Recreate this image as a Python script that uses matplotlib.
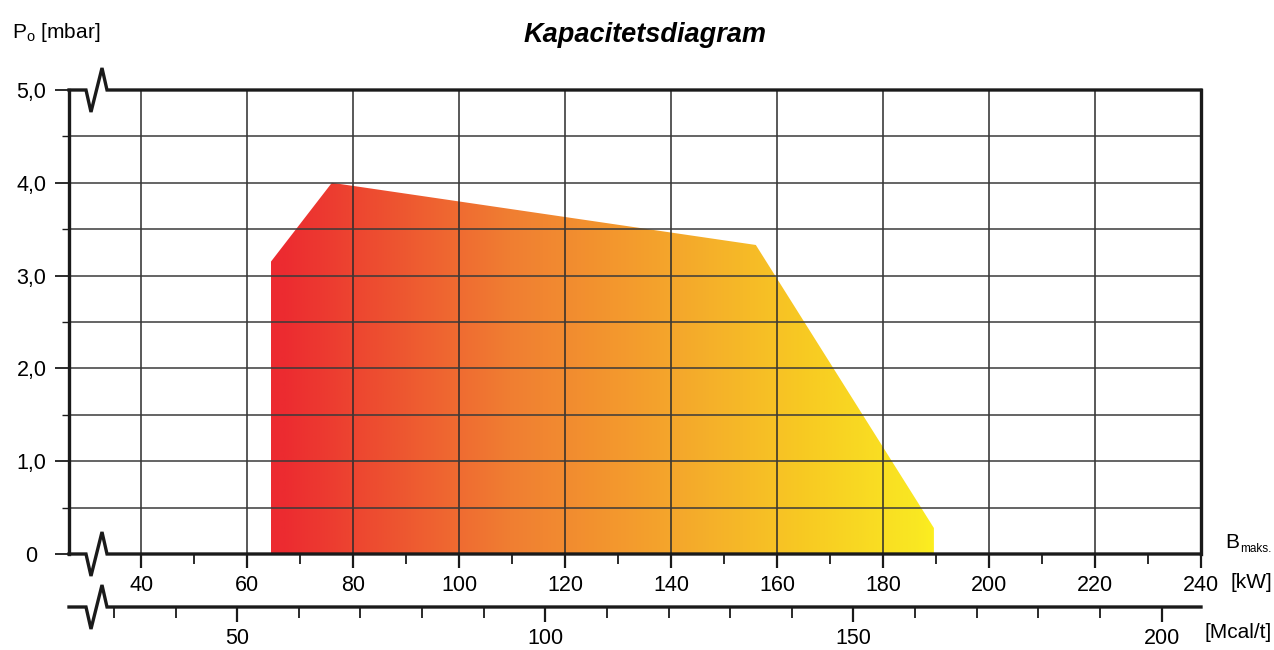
"""Kapacitetsdiagram: arbeidsområde for brenner (trykk mot effekt)."""

import matplotlib

matplotlib.use("Agg")
import matplotlib.pyplot as plt
import numpy as np
from matplotlib.colors import LinearSegmentedColormap
from matplotlib.patches import Polygon

plt.rcParams["font.family"] = ["Liberation Sans", "DejaVu Sans"]

# Arbeidsområdets hjørner / operating field corners (kW, mbar)
field_kw = [64.5, 64.5, 76.0, 156.0, 189.6, 189.6]
field_mbar = [0.0, 3.15, 4.0, 3.33, 0.28, 0.0]

# Fargeforløp langs effektaksen / gradient stops along kW axis
grad_kw = [64.5, 67.2, 90.8, 109.6, 128.5, 147.4, 166.2, 187.0, 189.6]
grad_colors = ["#EC2A30", "#EC2C30", "#EE5A30", "#F07E32", "#F3962E",
               "#F5B02A", "#F8CB22", "#FAE822", "#FCEE20"]

kw_ticks = [40, 60, 80, 100, 120, 140, 160, 180, 200, 220, 240]
mcal_ticks = [50, 100, 150, 200]
y_ticks = [0, 1, 2, 3, 4, 5]
y_labels = ["0", "1,0", "2,0", "3,0", "4,0", "5,0"]
KW_TO_MCAL = 0.86

X_MIN, X_MAX = 26.4, 240
Y_MIN, Y_MAX = 0, 5
FS = 15.5

fig = plt.figure(figsize=(12.74, 6.5), dpi=100)
ax = fig.add_axes([69 / 1274, 96 / 650, (1201 - 69) / 1274, (554 - 90) / 650])
ax.set_xlim(X_MIN, X_MAX)
ax.set_ylim(Y_MIN, Y_MAX)

# Gradientfylt område / gradient filled area
cmap = LinearSegmentedColormap.from_list(
    "kap", [((k - grad_kw[0]) / (grad_kw[-1] - grad_kw[0]), c)
            for k, c in zip(grad_kw, grad_colors)])
grad = np.linspace(0, 1, 512).reshape(1, -1)
img = ax.imshow(grad, cmap=cmap, aspect="auto", zorder=1,
                extent=(grad_kw[0], grad_kw[-1], 0, max(field_mbar)),
                interpolation="bilinear")
poly = Polygon(list(zip(field_kw, field_mbar)), closed=True,
               facecolor="none", edgecolor="none")
ax.add_patch(poly)
img.set_clip_path(poly)

# Rutenett / grid
for k in kw_ticks[:-1]:
    ax.axvline(k, color="#2b2b2b", lw=1.1, zorder=2)
for v in np.arange(0.5, 5.0, 0.5):
    ax.axhline(v, color="#3a3a3a", lw=1.1, zorder=2)

# Spines: venstre/høyre normal, topp/bunn med brudd / break marks
for side in ["top", "bottom"]:
    ax.spines[side].set_visible(False)
for side in ["left", "right"]:
    ax.spines[side].set_linewidth(2.4)
    ax.spines[side].set_color("#1a1a1a")

px_kw = 1 / 5.3          # kW per pixel
px_mb = 1 / 92.8         # mbar per pixel


def break_line(y0):
    xs = [X_MIN, X_MIN + 17 * px_kw, X_MIN + 22 * px_kw, X_MIN + 33 * px_kw,
          X_MIN + 38 * px_kw, X_MAX]
    ys = [y0, y0, y0 - 22 * px_mb, y0 + 22 * px_mb, y0, y0]
    return xs, ys


y_sec = -53 * px_mb
for y0 in [Y_MIN, Y_MAX, y_sec]:
    xs, ys = break_line(y0)
    ax.plot(xs, ys, color="#1a1a1a", lw=2.4, clip_on=False, zorder=5,
            solid_joinstyle="miter")

# Nedre kW-akse / kW axis
ax.set_xticks(kw_ticks)
ax.set_xticklabels([str(k) for k in kw_ticks], fontsize=FS)
ax.set_xticks(np.arange(50, 240, 20), minor=True)
ax.tick_params(axis="x", which="major", length=10, width=1.6, pad=5,
               color="#1a1a1a")
ax.tick_params(axis="x", which="minor", length=7, width=1.3, color="#1a1a1a")

# y-akse
ax.set_yticks(y_ticks)
ax.set_yticklabels(y_labels, fontsize=FS)
ax.set_yticks(np.arange(0.5, 5.0, 0.5), minor=True)
ax.tick_params(axis="y", which="major", length=10, width=1.3, pad=17,
               color="#1a1a1a")
ax.tick_params(axis="y", which="minor", length=5, width=1.0, color="#1a1a1a")
for lab in ax.get_yticklabels():
    lab.set_horizontalalignment("center")

# Sekundær Mcal/t-akse / secondary axis
sec = ax.secondary_xaxis(-53 / 464, functions=(lambda k: k * KW_TO_MCAL,
                                               lambda m: m / KW_TO_MCAL))
sec.spines["bottom"].set_visible(False)
sec.set_xticks(mcal_ticks)
sec.set_xticklabels([str(m) for m in mcal_ticks], fontsize=FS)
sec.set_xticks(np.arange(30, 210, 10), minor=True)
sec.tick_params(axis="x", which="major", length=11, width=1.6, pad=4,
                color="#1a1a1a")
sec.tick_params(axis="x", which="minor", length=8, width=1.3, color="#1a1a1a")

# Tekster / labels
fig.text(645 / 1274, 1 - 35 / 650, "Kapacitetsdiagram", fontsize=19.5,
         fontweight="bold", fontstyle="italic", ha="center", va="center")
fig.text(12 / 1274, 1 - 32 / 650, r"P$_{\mathregular{o}}$ [mbar]", fontsize=15,
         ha="left", va="center")
fig.text(1225 / 1274, 1 - 542 / 650, "B", fontsize=15, ha="left",
         va="center")
fig.text(1240 / 1274, 1 - 549 / 650, "maks.", fontsize=8.5, ha="left",
         va="center")
fig.text(1230 / 1274, 1 - 583 / 650, "[kW]", fontsize=15, ha="left",
         va="center")
fig.text(1205 / 1274, 1 - 632 / 650, "[Mcal/t]", fontsize=15, ha="left",
         va="center")

fig.savefig("out.png", dpi=100)
